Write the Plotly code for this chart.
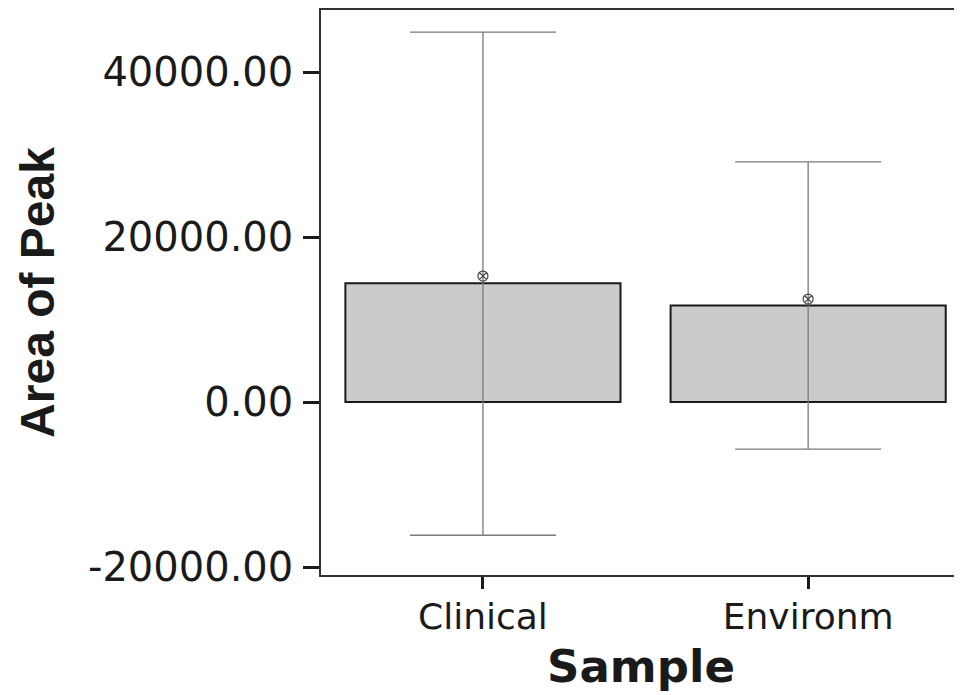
import plotly.graph_objects as go

categories = ["Clinical", "Environm"]
bar_values = [14400, 11700]
error_plus = [30450, 17400]
error_minus = [30550, 17400]
marker_values = [15270, 12480]

fig = go.Figure()
fig.add_trace(go.Bar(
    x=categories, y=bar_values,
    width=0.846,
    marker=dict(color="#cbcbcb", line=dict(color="#1a1a1a", width=2)),
    error_y=dict(type="data", symmetric=False, array=error_plus, arrayminus=error_minus,
                 color="#7a7a7a", thickness=1.3, width=73),
    showlegend=False,
))
fig.add_trace(go.Scatter(
    x=categories, y=marker_values, mode="markers",
    marker=dict(symbol="circle-x-open", size=10, color="#444444", line=dict(width=1.2)),
    showlegend=False,
))

fig.update_layout(
    width=954, height=687,
    margin=dict(l=313, r=1, t=2, b=120),
    paper_bgcolor="white", plot_bgcolor="white",
    font=dict(family="DejaVu Sans, sans-serif", color="#1a1a1a"),
)
fig.update_xaxes(
    type="category", range=[-0.498, 1.47],
    showline=True, linecolor="#333333", linewidth=1.5, mirror=True,
    ticks="outside", ticklen=12, tickwidth=3, tickcolor="#1a1a1a",
    tickfont=dict(size=36, family="DejaVu Sans"), showgrid=False,
    ticklabelstandoff=-3, automargin=False,
    title=dict(text="<b>Sample</b>", font=dict(size=45, family="DejaVu Sans"), standoff=15),
)
fig.update_yaxes(
    range=[-20970, 47520],
    tickvals=[-20000, 0, 20000, 40000], ticktext=["-20000.00", "0.00", "20000.00", "40000.00"],
    showline=True, linecolor="#333333", linewidth=1.5, mirror=True,
    ticks="outside", ticklen=16, tickwidth=3, tickcolor="#1a1a1a",
    tickfont=dict(size=40, family="DejaVu Sans"), showgrid=False, zeroline=False,
    ticklabelstandoff=2, automargin=False,
    title=dict(text="<b>Area of Peak</b>", font=dict(size=48, family="Liberation Sans, Arial"), standoff=18),
)
fig.write_html("out.html")
